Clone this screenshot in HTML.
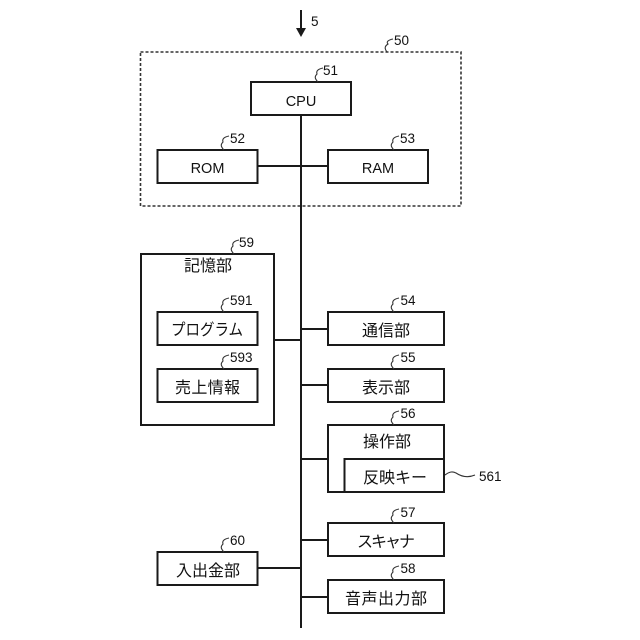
<!DOCTYPE html>
<html><head><meta charset="utf-8"><style>
html,body{margin:0;padding:0;background:#fff}
svg{display:block}
text{font-family:"Liberation Sans","Noto Sans CJK JP",sans-serif;fill:#111}
.l{font-size:16px;text-anchor:middle}
.e{font-size:14.5px;text-anchor:middle}
.n{font-size:13.5px}
.b{fill:#fff;stroke:#1a1a1a;stroke-width:2}
.c{fill:none;stroke:#1a1a1a;stroke-width:2}
.s{fill:none;stroke:#333;stroke-width:1.1}
</style></head><body>
<svg width="640" height="640" viewBox="0 0 640 640" xmlns="http://www.w3.org/2000/svg">
<rect width="640" height="640" fill="#fff"/>
<path class="c" d="M301 10V30"/><path d="M296 28H306L301 37Z" fill="#1a1a1a"/>
<text class="n" x="311" y="26">5</text>
<rect x="140.500" y="52" width="320.500" height="154" fill="none" stroke="#333" stroke-width="1.6" stroke-dasharray="3 2"/>
<path class="c" d="M301 115V628M257 166H328M274 340H301M301 329H328M301 385H328M301 459H328M301 540H328M257 568H301M301 597H328"/>
<rect class="b" x="251" y="82" width="100" height="33"/>
<rect class="b" x="157.500" y="150" width="100" height="33"/>
<rect class="b" x="328" y="150" width="100" height="33"/>
<rect class="b" x="141" y="254" width="133" height="171"/>
<rect class="b" x="157.500" y="312" width="100" height="33"/>
<rect class="b" x="157.500" y="369" width="100" height="33"/>
<rect class="b" x="328" y="312" width="116" height="33"/>
<rect class="b" x="328" y="369" width="116" height="33"/>
<rect class="b" x="328" y="425" width="116" height="67"/>
<path class="c" d="M344.500 492V459H444"/>
<rect class="b" x="328" y="523" width="116" height="33"/>
<rect class="b" x="328" y="580" width="116" height="33"/>
<rect class="b" x="157.500" y="552" width="100" height="33"/>
<text class="e" x="301" y="106">CPU</text>
<text class="e" x="207.500" y="173">ROM</text>
<text class="e" x="378" y="173">RAM</text>
<text class="l" x="208" y="271">記憶部</text>
<text class="l" x="207" y="335" textLength="72" lengthAdjust="spacingAndGlyphs">プログラム</text>
<text class="l" x="207.500" y="393" textLength="65">売上情報</text>
<text class="l" x="386" y="336">通信部</text>
<text class="l" x="386" y="393">表示部</text>
<text class="l" x="387" y="447">操作部</text>
<text class="l" x="395" y="483" textLength="64">反映キー</text>
<text class="l" x="386" y="547" textLength="58">スキャナ</text>
<text class="l" x="386" y="604" textLength="82">音声出力部</text>
<text class="l" x="208" y="576" textLength="64">入出金部</text>
<path class="s" d="M387 52C384 48 385 46 388 44C386 42 388 40 393 39"/><text class="n" x="394" y="45">50</text>
<path class="s" d="M318 82C314 78 315 76 317 74C316 71 318 69 323 68"/><text class="n" x="323" y="75">51</text>
<path class="s" d="M224 150C220 146 221 144 223 142C222 139 224 137 229 136"/><text class="n" x="230" y="143">52</text>
<path class="s" d="M394 150C390 146 391 144 393 142C392 139 394 137 399 136"/><text class="n" x="400" y="143">53</text>
<path class="s" d="M234 254C230 250 231 248 233 246C232 243 234 241 239 240"/><text class="n" x="239" y="247">59</text>
<path class="s" d="M224 312C220 308 221 306 223 304C222 301 224 299 229 298"/><text class="n" x="230" y="305">591</text>
<path class="s" d="M224 369C220 365 221 363 223 361C222 358 224 356 229 355"/><text class="n" x="230" y="362">593</text>
<path class="s" d="M394 312C390 308 391 306 393 304C392 301 394 299 399 298"/><text class="n" x="400.500" y="305">54</text>
<path class="s" d="M394 369C390 365 391 363 393 361C392 358 394 356 399 355"/><text class="n" x="400.500" y="362">55</text>
<path class="s" d="M394 425C390 421 391 419 393 417C392 414 394 412 399 411"/><text class="n" x="400.500" y="418">56</text>
<path class="s" d="M394 523C390 519 391 517 393 515C392 512 394 510 399 509"/><text class="n" x="400.500" y="517">57</text>
<path class="s" d="M394 580C390 576 391 574 393 572C392 569 394 567 399 566"/><text class="n" x="400.500" y="573">58</text>
<path class="s" d="M224 552C220 548 221 546 223 544C222 541 224 539 229 538"/><text class="n" x="230" y="545">60</text>
<path class="s" d="M445 475C449 472 452 471 456 473C462 477 468 478 475 475"/><text class="n" x="479" y="481">561</text>
</svg>
</body></html>
